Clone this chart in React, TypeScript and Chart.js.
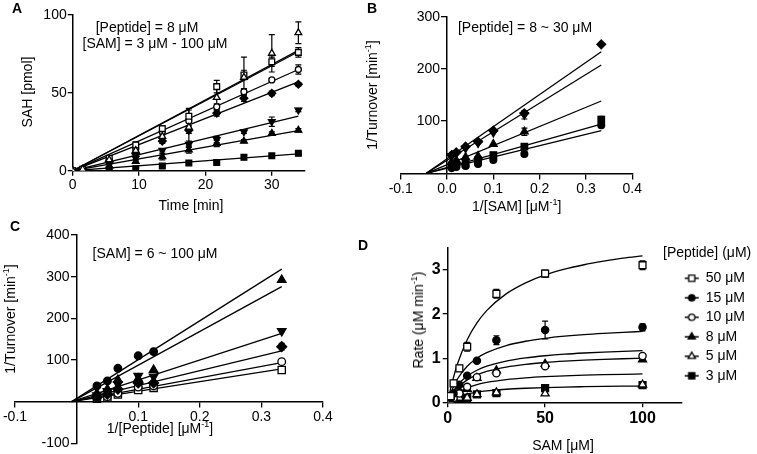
import React, { useEffect, useRef } from 'react';
import { Chart, registerables } from 'chart.js';
import { drawPoint } from 'chart.js/helpers';

Chart.register(...registerables);

const FONT = '"Liberation Sans", Arial, Helvetica, sans-serif';

// ---------------- Panel A : SAH vs time ----------------
const timeA = [0, 1.5, 5.5, 9.5, 13.5, 17.5, 21.7, 25.8, 30, 34];
const sahA100 = [0, 1, 7, 13, 22, 28, 47, 60, 75.4, 88.6];
const errA100 = [0, 0, 1, 2, 3, 12, 8, 13, 12, 7];
const sahA50 = [0, 1, 8, 16.5, 27, 35, 54, 61.5, 70, 76];
const errA50 = [0, 0, 1, 2, 2, 4, 4, 3, 3, 3];
const sahA25 = [0, 1, 7, 14, 25, 32, 41, 50.7, 58.3, 65];
const errA25 = [0, 0, 1, 1.5, 2, 3, 2, 2, 1, 3];
const sahA15 = [0, 0.8, 6, 11, 19, 26, 37, 46.5, 49.7, 55.5];
const errA15 = [0, 0, 1, 1, 1.5, 2, 2, 2, 1.5, 1];
const sahA10 = [0, 0.5, 4, 8, 13, 17, 20, 25, 31.5, 39];
const errA10 = [0, 0, 1, 1, 1, 2, 2, 1, 3, 1];
const sahA6 = [0, 0.4, 3, 6, 9, 13.3, 17.5, 19, 24, 26];
const errA6 = [0, 0, 1, 1, 2, 2, 2, 1, 1, 1];
const sahA3 = [0, 0.2, 0.8, 1.3, 3, 5, 5.2, 8.6, 9.6, 11.2];
const errA3 = [0, 0, 0, 0, 0.5, 0.5, 0.5, 0.5, 0.5, 0.5];
const fitTimeA = [0, 34];
// fit line end values (SAM 100, 50, 25, 15, 10, 6, 3 uM)
const fitEndA = [77.3, 76.4, 65, 57, 35.1, 25.7, 10.8];
const ticksAx = [0, 10, 20, 30];
const ticksAy = [0, 50, 100];

// ---------------- Panel B : 1/turnover vs 1/[SAM] ----------------
const invSamB = [0.01, 0.02, 0.04, 0.067, 0.1, 0.167, 0.333];
const turnB8 = [35, 40, 51, 60.5, 81.6, 115, 247];
const turnB10 = [33, 38, 48, 58, 78, 112, null];
const errB10 = [0, 0, 0, 0, 0, 8, 0];
const turnB15 = [22, 25, 31, 33, 56, 79.7, null];
const errB15 = [0, 0, 0, 0, 0, 7, 0];
const turnB20 = [15, 17, 18, 25, 35, 51, 103];
const errB20 = [0, 0, 0, 0, 0, 0, 6];
const turnB30 = [10, 12, 14, 18, 25.5, 37, 92];
const fitXB = [-0.045, 0.333];
const fitEndB = [233, 207.5, 138.5, 94.4, 81.6];
const ticksBx = [-0.1, 0, 0.1, 0.2, 0.3, 0.4];
const tickLabelsBx = ['-0.1', '0.0', '0.1', '0.2', '0.3', '0.4'];
const ticksBy = [100, 200, 300];

// ---------------- Panel C : 1/turnover vs 1/[Peptide] ----------------
const invPepC = [0.033, 0.05, 0.067, 0.1, 0.125, 0.333];
const turnC6 = [37.6, 49.6, 80, 110, 120, null];
const turnC10 = [20, 30, 52, 55, 76, 292];
const turnC15 = [15, 25, 42, 61.6, 60, 169.5];
const turnC25 = [10, 18, 30, 45, 45, 132];
const errC25 = [0, 0, 0, 0, 0, 8];
const turnC50 = [8, 12, 20, 35, 38, 96];
const errC50 = [0, 0, 0, 0, 0, 6];
const turnC100 = [7, 10, 17, 28, 33, 76];
const fitXC = [-0.008, 0.333];
const fitEndC = [318, 276, 164, 122, 93.6, 78.4];
const ticksCx = [-0.1, 0.1, 0.2, 0.3, 0.4];
const tickLabelsCx = ['-0.1', '0.1', '0.2', '0.3', '0.4'];
const ticksCy = [-100, 100, 200, 300, 400];

// ---------------- Panel D : rate vs SAM ----------------
const samD = [1.5, 3, 6, 10, 15, 25, 50, 100];
const rateD50 = [0.14, 0.43, 0.77, 1.26, null, 2.46, 2.92, 3.11];
const errD50 = [0.03, 0.07, 0.07, 0.1, 0, 0.1, 0.08, 0.1];
const rateD15 = [0.1, 0.2, 0.4, 0.6, 0.94, 1.41, 1.64, 1.7];
const errD15 = [0, 0, 0, 0, 0, 0.1, 0.2, 0.08];
const rateD10 = [0.05, 0.1, 0.2, 0.35, 0.57, 0.66, 0.82, 1.05];
const errD10 = [0, 0, 0, 0, 0, 0.04, 0.04, 0.05];
const rateD8 = [0.05, 0.1, 0.25, 0.3, 0.55, 0.72, 0.87, 0.97];
const rateD5 = [0.03, 0.06, 0.1, 0.1, 0.18, 0.22, 0.2, 0.4];
const rateD3 = [0.03, 0.05, 0.08, 0.1, 0.18, 0.21, 0.32, 0.39];
const curveSamD = [1, 2, 5, 10, 15, 20, 30, 40, 50, 60, 70, 80, 90, 100];
const curveD50 = [0.211, 0.4, 0.867, 1.418, 1.8, 2.08, 2.46, 2.71, 2.89, 3.02, 3.12, 3.2, 3.27, 3.32];
const curveD15 = [0.138, 0.257, 0.529, 0.818, 1.0, 1.125, 1.286, 1.385, 1.452, 1.5, 1.537, 1.565, 1.588, 1.607];
const curveD10 = [0.101, 0.187, 0.385, 0.595, 0.728, 0.819, 0.936, 1.008, 1.056, 1.092, 1.118, 1.139, 1.156, 1.17];
const curveD8 = [0.086, 0.16, 0.329, 0.509, 0.622, 0.7, 0.8, 0.862, 0.903, 0.933, 0.956, 0.974, 0.988, 1.0];
const curveD5 = [0.055, 0.103, 0.212, 0.327, 0.4, 0.45, 0.514, 0.554, 0.581, 0.6, 0.615, 0.626, 0.635, 0.643];
const curveD3 = [0.032, 0.059, 0.122, 0.189, 0.231, 0.259, 0.296, 0.319, 0.335, 0.346, 0.354, 0.361, 0.366, 0.37];
const legendD = ['50 μM', '15 μM', '10 μM', '8 μM', '5 μM', '3 μM'];
const ticksDx = [0, 50, 100];
const ticksDy = [0, 1, 2, 3];

// ---------------- helpers ----------------
type Sym = { style: string; fill: string; rot?: number; k: number };
const SYM: Record<string, Sym> = {
  sqFill: { style: 'rect', fill: '#000', k: 1.35 },
  sqOpen: { style: 'rect', fill: '#fff', k: 1.35 },
  circFill: { style: 'circle', fill: '#000', k: 1 },
  circOpen: { style: 'circle', fill: '#fff', k: 1 },
  triFill: { style: 'triangle', fill: '#000', k: 1.3 },
  triOpen: { style: 'triangle', fill: '#fff', k: 1.3 },
  invFill: { style: 'triangle', fill: '#000', rot: 180, k: 1.3 },
  diaFill: { style: 'rectRot', fill: '#000', k: 1.3 },
};

function pts(xs: number[], ys: (number | null)[], es?: number[]) {
  return xs
    .map((x, i) => ({ x, y: ys[i], e: es ? es[i] : 0 }))
    .filter((p) => p.y !== null && p.y !== undefined);
}

function markDs(label: string, data: any[], sym: Sym, r: number) {
  const rad = r * sym.k;
  return {
    label,
    data,
    showLine: false,
    pointStyle: sym.style,
    rotation: sym.rot || 0,
    pointRadius: rad,
    pointHoverRadius: rad,
    pointBackgroundColor: sym.fill,
    pointBorderColor: '#000',
    pointBorderWidth: 1.3,
    backgroundColor: sym.fill,
    borderColor: '#000',
  };
}

function lineDs(data: any[], smooth = false) {
  return {
    label: '',
    data,
    showLine: true,
    pointRadius: 0,
    pointHoverRadius: 0,
    borderColor: '#000',
    borderWidth: 1.3,
    fill: false,
    tension: smooth ? 0.4 : 0,
    cubicInterpolationMode: smooth ? 'monotone' : 'default',
  };
}

function straight(xr: number[], y0: number, y1: number) {
  return [
    { x: xr[0], y: y0 },
    { x: xr[1], y: y1 },
  ];
}

function axis(o: any) {
  const s: any = {
    type: 'linear',
    min: o.min,
    max: o.max,
    position: o.position,
    afterBuildTicks: (sc: any) => {
      sc.ticks = o.ticks.map((v: number) => ({ value: v }));
    },
    grid: {
      display: true,
      drawOnChartArea: false,
      drawTicks: true,
      tickLength: 5,
      color: '#000',
      lineWidth: 1.3,
    },
    border: { display: true, color: '#000', width: 1.5 },
    ticks: {
      color: '#000',
      padding: o.pad ?? 2,
      autoSkip: false,
      maxRotation: 0,
      font: { family: FONT, size: o.size || 14, weight: o.bold ? 'bold' : 'normal' },
      callback: o.labels
        ? (_v: number, i: number) => o.labels[i]
        : (v: number) => String(v),
    },
  };
  if (o.fit != null) {
    s.afterFit = (sc: any) => {
      if (sc.isHorizontal()) sc.height = o.fit;
      else sc.width = o.fit;
    };
  }
  return s;
}

const errorBars = {
  id: 'errorBars',
  beforeDatasetsDraw(chart: any) {
    const { ctx } = chart;
    const ys = chart.scales.y;
    ctx.save();
    ctx.strokeStyle = '#000';
    ctx.lineWidth = 1.2;
    chart.data.datasets.forEach((ds: any, i: number) => {
      const meta = chart.getDatasetMeta(i);
      ds.data.forEach((p: any, j: number) => {
        if (!p || !p.e) return;
        const el = meta.data[j];
        if (!el) return;
        const x = el.x;
        const y1 = ys.getPixelForValue(p.y + p.e);
        const y2 = ys.getPixelForValue(p.y - p.e);
        const cap = 3;
        ctx.beginPath();
        ctx.moveTo(x, y1);
        ctx.lineTo(x, y2);
        ctx.moveTo(x - cap, y1);
        ctx.lineTo(x + cap, y1);
        ctx.moveTo(x - cap, y2);
        ctx.lineTo(x + cap, y2);
        ctx.stroke();
      });
    });
    ctx.restore();
  },
};

// y axis crossing at x = 0: put its tick labels left of the tick marks
const yLabelShift = {
  id: 'yLabelShift',
  afterLayout(chart: any) {
    const s = chart.scales.y;
    if (!s || s._labelShiftPatched) return;
    const shift = s.options.grid.tickLength + s.options.ticks.padding;
    const base = Object.getPrototypeOf(s)._computeLabelItems;
    s._computeLabelItems = function (ca: any) {
      const items = base.call(this, ca);
      items.forEach((it: any) => {
        const t = it.options ? it.options.translation : it.translation;
        if (t) t[0] -= shift;
      });
      return items;
    };
    s._labelItems = null;
    s._labelShiftPatched = true;
  },
};

const baseOpts = (padding: any) => ({
  animation: false,
  responsive: false,
  devicePixelRatio: 1,
  events: [],
  layout: { padding },
  plugins: { legend: { display: false }, tooltip: { enabled: false } },
});

// ---------------- chart configs ----------------
function configA(): any {
  const R = 3;
  const marks = [
    markDs('100 uM', pts(timeA, sahA100, errA100), SYM.triOpen, R),
    markDs('50 uM', pts(timeA, sahA50, errA50), SYM.sqOpen, R),
    markDs('25 uM', pts(timeA, sahA25, errA25), SYM.circOpen, R),
    markDs('15 uM', pts(timeA, sahA15, errA15), SYM.diaFill, R),
    markDs('10 uM', pts(timeA, sahA10, errA10), SYM.invFill, R),
    markDs('6 uM', pts(timeA, sahA6, errA6), SYM.triFill, R),
    markDs('3 uM', pts(timeA, sahA3, errA3), SYM.sqFill, R),
  ];
  const fits = fitEndA.map((v) => lineDs(straight(fitTimeA, 0, v)));
  return {
    type: 'scatter',
    data: { datasets: [...marks, ...fits] },
    options: {
      ...baseOpts({ left: 0, top: 15, right: 75, bottom: 0 }),
      scales: {
        x: axis({ min: 0, max: 35, ticks: ticksAx, position: 'bottom', fit: 29.3, pad: 1 }),
        y: axis({ min: 0, max: 100, ticks: ticksAy, position: 'left', fit: 72.7, pad: 1 }),
      },
    },
    plugins: [errorBars],
  };
}

function configB(): any {
  const R = 3.4;
  const marks = [
    markDs('8', pts(invSamB, turnB8), SYM.diaFill, R),
    markDs('10', pts(invSamB, turnB10, errB10), SYM.invFill, R),
    markDs('15', pts(invSamB, turnB15, errB15), SYM.triFill, R),
    markDs('20', pts(invSamB, turnB20, errB20), SYM.sqFill, R),
    markDs('30', pts(invSamB, turnB30), SYM.circFill, R),
  ];
  const fits = fitEndB.map((v) => lineDs(straight(fitXB, 0, v)));
  return {
    type: 'scatter',
    data: { datasets: [...marks, ...fits] },
    options: {
      ...baseOpts({ left: 20.7, top: 16.7, right: 124.7, bottom: 26.7 }),
      scales: {
        x: axis({ min: -0.1, max: 0.4, ticks: ticksBx, labels: tickLabelsBx, position: { y: 0 } }),
        y: axis({ min: 0, max: 300, ticks: ticksBy, position: { x: 0 } }),
      },
    },
    plugins: [errorBars, yLabelShift],
  };
}

function configC(): any {
  const R = 3.8;
  const marks = [
    markDs('6', pts(invPepC, turnC6), SYM.circFill, R),
    markDs('10', pts(invPepC, turnC10), SYM.triFill, R),
    markDs('15', pts(invPepC, turnC15), SYM.invFill, R),
    markDs('25', pts(invPepC, turnC25, errC25), SYM.diaFill, R),
    markDs('50', pts(invPepC, turnC50, errC50), SYM.circOpen, R),
    markDs('100', pts(invPepC, turnC100), SYM.sqOpen, R),
  ];
  const fits = fitEndC.map((v) => lineDs(straight(fitXC, 0, v)));
  return {
    type: 'scatter',
    data: { datasets: [...marks, ...fits] },
    options: {
      ...baseOpts({ left: 15, top: 35, right: 57, bottom: 10.7 }),
      scales: {
        x: axis({ min: -0.1, max: 0.4, ticks: ticksCx, labels: tickLabelsCx, position: { y: 0 } }),
        y: axis({ min: -100, max: 400, ticks: ticksCy, position: { x: 0 } }),
      },
    },
    plugins: [errorBars, yLabelShift],
  };
}

function makeIcon(sym: Sym, r: number) {
  const c = document.createElement('canvas');
  c.width = 16;
  c.height = 12;
  const g = c.getContext('2d')!;
  g.strokeStyle = '#000';
  g.lineWidth = 1.5;
  g.beginPath();
  g.moveTo(1, 6);
  g.lineTo(15, 6);
  g.stroke();
  g.fillStyle = sym.fill;
  g.strokeStyle = '#000';
  g.lineWidth = 1.3;
  drawPoint(g as any, { pointStyle: sym.style as any, rotation: sym.rot || 0, radius: r * sym.k, borderWidth: 1.3 } as any, 8, 6);
  return c;
}

const LEG_LEFT = 299.2;
const LEG_TOP = 65.8;
const legendPlace = {
  id: 'legendPlace',
  afterLayout(chart: any) {
    const lg = chart.legend;
    if (!lg) return;
    lg.left = LEG_LEFT;
    lg.top = LEG_TOP;
    lg.right = LEG_LEFT + 120;
    lg.bottom = LEG_TOP + 185;
  },
};

function configD(): any {
  const R = 3.6;
  const syms = [SYM.sqOpen, SYM.circFill, SYM.circOpen, SYM.triFill, SYM.triOpen, SYM.sqFill];
  const rates = [rateD50, rateD15, rateD10, rateD8, rateD5, rateD3];
  const errs = [errD50, errD15, errD10, undefined, undefined, undefined];
  const curves = [curveD50, curveD15, curveD10, curveD8, curveD5, curveD3];
  const marks = rates.map((r, i) => markDs(legendD[i], pts(samD, r, errs[i] as any), syms[i], R));
  const fits = curves.map((c) => lineDs(pts(curveSamD, c), true));
  const icons = syms.map((s) => makeIcon(s, 3.2));
  return {
    type: 'scatter',
    data: { datasets: [...marks, ...fits] },
    options: {
      ...baseOpts({ left: 0, top: 48, right: 74.5, bottom: 0 }),
      plugins: {
        tooltip: { enabled: false },
        legend: {
          display: true,
          position: 'right',
          align: 'start',
          maxWidth: 1,
          labels: {
            usePointStyle: true,
            pointStyleWidth: 14,
            padding: 5.5,
            color: '#000',
            font: { family: FONT, size: 14 },
            generateLabels: () =>
              legendD.map((t, i) => ({
                text: t,
                pointStyle: icons[i],
                fillStyle: '#000',
                strokeStyle: '#000',
                fontColor: '#000',
                lineWidth: 0,
                hidden: false,
                datasetIndex: i,
              })),
          },
        },
      },
      scales: {
        x: axis({ min: 0, max: 120, ticks: ticksDx, position: 'bottom', fit: 51.7, bold: true, size: 16, pad: 2 }),
        y: axis({ min: 0, max: 3.5, ticks: ticksDy, position: 'left', fit: 67.7, bold: true, size: 16, pad: 2 }),
      },
    },
    plugins: [errorBars, legendPlace],
  };
}

// ---------------- components ----------------
function ChartCanvas({ left, top, width, height, make }: any) {
  const ref = useRef<HTMLCanvasElement>(null);
  useEffect(() => {
    const chart = new Chart(ref.current as HTMLCanvasElement, make());
    return () => chart.destroy();
  }, []);
  return (
    <canvas
      ref={ref}
      width={width}
      height={height}
      style={{ position: 'absolute', left, top, width, height }}
    />
  );
}

function T({ x, y, children, size = 14, bold = false, rot = false, anchor = 'center' }: any) {
  const tx = anchor === 'left' ? '0' : '-50%';
  return (
    <div
      style={{
        position: 'absolute',
        left: x,
        top: y,
        transform: `translate(${tx}, -50%)${rot ? ' rotate(-90deg)' : ''}`,
        transformOrigin: anchor === 'left' ? '0 50%' : '50% 50%',
        whiteSpace: 'nowrap',
        fontFamily: FONT,
        fontSize: size,
        fontWeight: bold ? 'bold' : 'normal',
        lineHeight: 1,
        color: '#000',
      }}
    >
      {children}
    </div>
  );
}

const Sup = ({ children }: any) => (
  <sup style={{ fontSize: 9, verticalAlign: 'top', lineHeight: 0, position: 'relative', top: 3 }}>{children}</sup>
);

export default function App() {
  return (
    <div
      style={{
        position: 'absolute',
        left: 0,
        top: 0,
        width: 757,
        height: 454,
        background: '#fff',
        overflow: 'hidden',
      }}
    >
      <ChartCanvas left={0} top={0} width={380} height={200} make={configA} />
      <ChartCanvas left={380} top={0} width={377} height={200} make={configB} />
      <ChartCanvas left={0} top={200} width={380} height={254} make={configC} />
      <ChartCanvas left={380} top={200} width={377} height={254} make={configD} />

      <T x={17} y={8} bold size={14}>A</T>
      <T x={372} y={8} bold size={14}>B</T>
      <T x={15} y={226} bold size={14}>C</T>
      <T x={363} y={245} bold size={14}>D</T>

      <T x={147} y={27}>[Peptide] = 8 μM</T>
      <T x={155} y={42.5}>[SAM] = 3 μM - 100 μM</T>
      <T x={26.7} y={92} rot>SAH [pmol]</T>
      <T x={191} y={205}>Time [min]</T>

      <T x={525} y={27.3}>[Peptide] = 8 ~ 30 μM</T>
      <T x={372} y={95} rot>
        1/Turnover [min<Sup>-1</Sup>]
      </T>
      <T x={516.7} y={206}>
        1/[SAM] [μM<Sup>-1</Sup>]
      </T>

      <T x={155} y={253.3}>[SAM] = 6 ~ 100 μM</T>
      <T x={10} y={319} rot>
        1/Turnover [min<Sup>-1</Sup>]
      </T>
      <T x={160} y={428}>
        1/[Peptide] [μM<Sup>-1</Sup>]
      </T>

      <T x={418} y={320} rot>
        Rate (μM min<Sup>-1</Sup>)
      </T>
      <T x={563} y={445}>SAM [μM]</T>
      <T x={663} y={251.7} anchor="left">[Peptide] (μM)</T>
    </div>
  );
}
